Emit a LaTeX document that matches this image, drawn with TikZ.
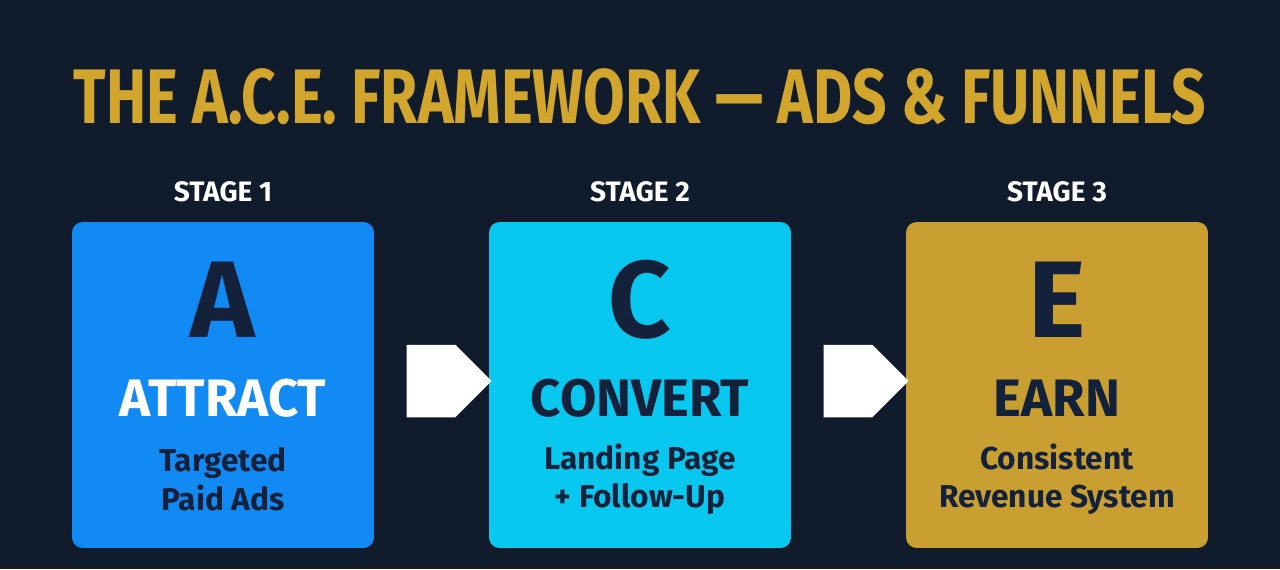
\documentclass[tikz,border=0pt]{standalone}
\usepackage{fontspec}
\setmainfont{Fira Sans}
\usetikzlibrary{positioning,shapes.arrows}
\definecolor{bgnavy}{HTML}{101B2B}
\definecolor{titlegold}{HTML}{D2A52C}
\definecolor{inknavy}{HTML}{14213A}
\definecolor{boxblue}{HTML}{128AF4}
\definecolor{boxcyan}{HTML}{08C8F0}
\definecolor{boxgold}{HTML}{C99F32}
\begin{document}
\begin{tikzpicture}
        [ x = 0.02cm, y = -0.02cm
        , stagebox/.style =
          { rounded corners=6pt, minimum width=6.04cm, minimum height=6.52cm, inner sep=0pt }
        , stagelabel/.style =
          { white, font=\fontsize{16}{16}\selectfont\bfseries }
        , bigletter/.style =
          { inknavy, font=\fontsize{62}{62}\selectfont\bfseries }
        , word/.style =
          { font=\fontsize{30}{30}\selectfont\bfseries }
        , sub/.style =
          { inknavy, align=center, font=\fontsize{18}{22}\selectfont\bfseries }
        , flow/.style =
          { single arrow, fill=white, minimum height=1.7cm, minimum width=1.45cm,
            single arrow head extend=0pt, single arrow tip angle=90, inner sep=0pt }
        ]
        \fill [bgnavy] (0,0) rectangle (1280,569);
        \node [titlegold, font=\fontsize{44}{44}\selectfont\bfseries] (title) at (640,97)
          {\addfontfeature{FakeStretch=0.78}THE A.C.E. FRAMEWORK — ADS \& FUNNELS};

        % stage A
        \node [stagebox, fill=boxblue] (boxA) at (223,385) {};
        \node [stagelabel] (stA) at (223,192) {STAGE 1};
        \node [bigletter] (letA) at (223,300) {A};
        \node [word, white] (wA) at (223,398) {ATTRACT};
        \node [sub] (sA) at (223,479) {Targeted\\Paid Ads};

        % stage C
        \node [stagebox, fill=boxcyan] (boxC) at (640,385) {};
        \node [stagelabel] (stC) at (640,192) {STAGE 2};
        \node [bigletter] (letC) at (640,300) {C};
        \node [word, inknavy] (wC) at (640,398) {CONVERT};
        \node [sub] (sC) at (640,479) {Landing Page\\+ Follow-Up};

        % stage E
        \node [stagebox, fill=boxgold] (boxE) at (1057,385) {};
        \node [stagelabel] (stE) at (1057,192) {STAGE 3};
        \node [bigletter] (letE) at (1057,300) {E};
        \node [word, inknavy] (wE) at (1057,398) {EARN};
        \node [sub] (sE) at (1057,479) {Consistent\\Revenue System};

        \node [flow] (ac) at (431,381) {};
        \node [flow] (ce) at (848,381) {};
      \end{tikzpicture}
\end{document}
